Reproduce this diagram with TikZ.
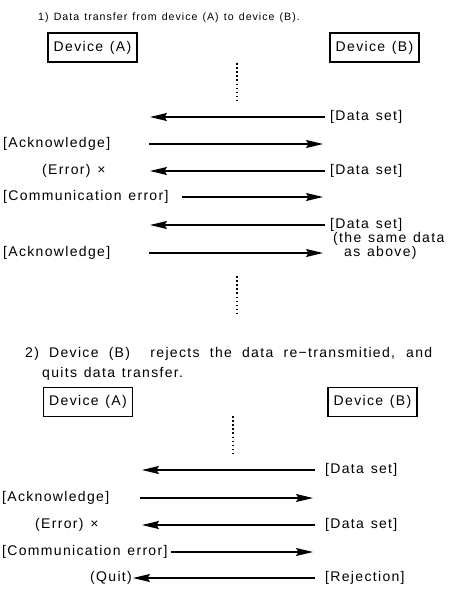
\documentclass[tikz,border=0pt]{standalone}
\usepackage{fontspec}
\setmainfont{Liberation Sans}[LetterSpace=9.5,WordSpace=1.3]
\usetikzlibrary{arrows.meta}
\begin{document}
\begin{tikzpicture}[x=1pt,y=-1pt,
  lbl/.style={inner sep=0pt, font=\fontsize{14}{16}\selectfont},
  dev/.style={draw, line width=1.3pt, minimum width=89pt, minimum height=29pt, inner sep=0pt, font=\fontsize{14}{16}\selectfont},
  msg/.style={line width=1.1pt, -{Stealth[length=17pt,width=8pt,inset=2.5pt]}},
  vdots/.style={line width=1.4pt, dash pattern=on 1.5pt off 2.6pt},
  ttla/.style={inner sep=0pt, anchor=base west, font=\fontsize{10.6}{13}\selectfont},
  ttlb/.style={inner sep=0pt, anchor=base west, font=\fontsize{14}{16}\selectfont}
]
\useasboundingbox (0,0) rectangle (456,590);
% ---------- section 1
\node[ttla] (t1) at (38,20) {1) Data transfer from device (A) to device (B).};
\node[dev] (dA1) at (92.5,47.5) {Device (A)};
\node[dev] (dB1) at (374.5,47.5) {Device (B)};
\coordinate (v1a) at (237,63);
\coordinate (v1b) at (237,104);
\draw[vdots] (v1a) -- (v1b);
% rows
\node[lbl,anchor=west] (ds1) at (330,117) {[Data set]};
\coordinate (r1) at (325,117); \coordinate (l1) at (150,117);
\draw[msg] (r1) -- (l1);
\node[lbl,anchor=west] (ack1) at (3,144) {[Acknowledge]};
\coordinate (l2) at (149,144); \coordinate (r2) at (323,144);
\draw[msg] (l2) -- (r2);
\node[lbl,anchor=west] (err1) at (42,171) {(Error) ×};
\node[lbl,anchor=west] (ds2) at (330,171) {[Data set]};
\coordinate (r3) at (325,171); \coordinate (l3) at (150,171);
\draw[msg] (r3) -- (l3);
\node[lbl,anchor=west] (com1) at (3,197) {[Communication error]};
\coordinate (l4) at (182,197); \coordinate (r4) at (323,197);
\draw[msg] (l4) -- (r4);
\node[lbl,anchor=west] (ds3) at (330,225) {[Data set]};
\coordinate (r5) at (325,225); \coordinate (l5) at (150,225);
\draw[msg] (r5) -- (l5);
\node[lbl,anchor=west] (same1) at (333,239) {(the same data};
\node[lbl,anchor=west] (same2) at (344,253) {as above)};
\node[lbl,anchor=west] (ack2) at (3,253) {[Acknowledge]};
\coordinate (l6) at (149,253); \coordinate (r6) at (323,253);
\draw[msg] (l6) -- (r6);
\coordinate (v2a) at (237,276);
\coordinate (v2b) at (237,317);
\draw[vdots] (v2a) -- (v2b);
% ---------- section 2
\node[ttlb] (t2) at (25,357) {\makebox[407pt][s]{2) Device (B)\ \ rejects the data re−transmitied, and}};
\node[ttlb] (t3) at (42,377) {quits data transfer.};
\node[dev] (dA2) at (88,402) {Device (A)};
\node[dev] (dB2) at (372.5,402) {Device (B)};
\coordinate (v3a) at (233,416);
\coordinate (v3b) at (233,457);
\draw[vdots] (v3a) -- (v3b);
\node[lbl,anchor=west] (ds4) at (325,470) {[Data set]};
\coordinate (r7) at (315,470); \coordinate (l7) at (142,470);
\draw[msg] (r7) -- (l7);
\node[lbl,anchor=west] (ack3) at (2,498) {[Acknowledge]};
\coordinate (l8) at (140,498); \coordinate (r8) at (313,498);
\draw[msg] (l8) -- (r8);
\node[lbl,anchor=west] (err2) at (35,525) {(Error) ×};
\node[lbl,anchor=west] (ds5) at (325,525) {[Data set]};
\coordinate (r9) at (315,525); \coordinate (l9) at (142,525);
\draw[msg] (r9) -- (l9);
\node[lbl,anchor=west] (com2) at (2,552) {[Communication error]};
\coordinate (l10) at (171,552); \coordinate (r10) at (313,552);
\draw[msg] (l10) -- (r10);
\node[lbl,anchor=west] (quit) at (90,578) {(Quit)};
\node[lbl,anchor=west] (rej) at (325,578) {[Rejection]};
\coordinate (r11) at (315,578); \coordinate (l11) at (133,578);
\draw[msg] (r11) -- (l11);
\end{tikzpicture}
\end{document}
